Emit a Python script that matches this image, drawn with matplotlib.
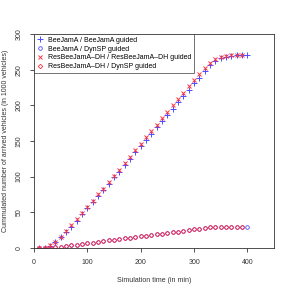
import numpy as np
import matplotlib
matplotlib.use('Agg')
import matplotlib.pyplot as plt

# simulation time (min)
t_bee = np.arange(10, 401, 10)
t_res = np.arange(10, 391, 10)

# cumulated arrived vehicles (in 1000 vehicles)
bee_bee = [0, 0.5, 3, 8, 15, 22, 30, 38, 47, 56, 64, 73, 81, 90, 99, 107, 116, 125, 134, 143,
           151, 160, 169, 178, 187, 195, 204, 213, 222, 231, 239, 248, 256, 262, 266, 268,
           269.5, 270, 270, 270]
bee_dyn = [0, 0.2, 0.5, 1, 1.8, 2.5, 3.5, 4.5, 5.5, 6.5, 7.5, 8.5, 9.5, 10.5, 11.5, 12.5, 13.5,
           14.5, 15.5, 16.5, 17.3, 18.2, 19.1, 20, 21, 22, 23, 24, 25, 26, 27, 28, 28.7, 29.3,
           29.7, 30, 30, 30, 30, 30]
res_res = [0, 0.5, 3.5, 9, 16, 24, 32, 40, 49, 57, 66, 75, 83, 92, 101, 110, 119, 128, 137, 146,
           155, 164, 173, 182, 191, 200, 209, 218, 227, 235, 244, 253, 260, 265, 268, 269.5,
           270, 270, 270]
res_dyn = [0, 0.2, 0.5, 1, 1.8, 2.5, 3.5, 4.5, 5.5, 6.5, 7.5, 8.5, 9.5, 10.5, 11.5, 12.5, 13.5,
           14.5, 15.5, 16.5, 17.3, 18.2, 19.1, 20, 21, 22, 23, 24, 25, 26, 27, 28, 28.7, 29.3,
           29.7, 30, 30, 30, 30]

plt.rcParams['font.family'] = ['Liberation Sans', 'DejaVu Sans']

fig = plt.figure(figsize=(2.91, 2.91), dpi=100)
ax = fig.add_axes([0.117, 0.148, 0.825, 0.735])

blue = (0.3, 0.3, 1.0)
red = (1.0, 0.2, 0.25)

ax.plot(t_bee, bee_bee, '+', color=blue, ms=4, mew=0.7, linestyle='none',
        label='BeeJamA / BeeJamA guided')
ax.plot(t_bee, bee_dyn, 'o', color=blue, mfc='none', ms=2.6, mew=0.6, linestyle='none',
        label='BeeJamA / DynSP guided')
ax.plot(t_res, res_res, 'x', color=red, ms=2.8, mew=0.7, linestyle='none',
        label='ResBeeJamA\u2013DH / ResBeeJamA\u2013DH guided')
ax.plot(t_res, res_dyn, 'D', color=red, mfc='none', ms=2.3, mew=0.6, linestyle='none',
        label='ResBeeJamA\u2013DH / DynSP guided')

ax.set_xlim(0, 450)
ax.set_ylim(0, 300)
ax.set_xticks([0, 100, 200, 300, 400])
ax.set_yticks([0, 50, 100, 150, 200, 250, 300])
ax.tick_params(direction='out', length=3, width=0.6, labelsize=5, colors='#333333', pad=5)
for lab in ax.get_yticklabels():
    lab.set_rotation(90)
    lab.set_va('center')
for sp in ax.spines.values():
    sp.set_linewidth(0.6)
    sp.set_color('#333333')

ax.set_xlabel('Simulation time (in min)', fontsize=5, color='#333333', labelpad=8)
ax.set_ylabel('Cummulated number of arrived vehicles (in 1000 vehicles)', fontsize=5,
              color='#333333', labelpad=5)

leg = ax.legend(loc='upper left', fontsize=5, frameon=True, fancybox=False,
                borderaxespad=0, handlelength=1, handletextpad=0.6, labelspacing=0.25,
                borderpad=0.4)
leg.get_frame().set_edgecolor('#333333')
leg.get_frame().set_linewidth(0.6)

fig.savefig('out.png', dpi=100)
